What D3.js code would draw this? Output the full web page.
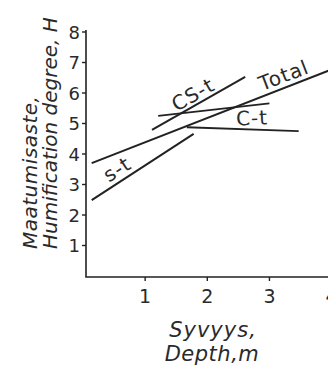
<!DOCTYPE html>
<html>
<head>
<meta charset="utf-8">
<script src="https://cdn.jsdelivr.net/npm/d3@7"></script>
<style>
  html, body { margin: 0; padding: 0; background: #fff; }
  svg { display: block; }
  text { font-family: "DejaVu Sans", "Open Sans", sans-serif; fill: #2a2a2a; }
</style>
</head>
<body>
<svg id="chart" width="328" height="375"></svg>
<script>
// Tick values on each axis
const xTicks = [1, 2, 3, 4];
const yTicks = [1, 2, 3, 4, 5, 6, 7, 8];

// Regression lines: humification degree against depth, [depth, H] end points
const seriesNames = ["Total", "s-t", "CS-t", "CS-t flat", "C-t"];
const totalLine = [[0.14, 3.70], [4.0, 6.77]];
const stLine = [[0.14, 2.49], [1.78, 4.66]];
const cstLine = [[1.11, 4.79], [2.61, 6.53]];
const cstFlatLine = [[1.21, 5.25], [3.0, 5.66]];
const ctLine = [[1.67, 4.88], [3.47, 4.75]];

// Line labels: text, centre point [depth, H], rotation in degrees
const labelText = ["Total", "CS-t", "C-t", "s-t"];
const labelPos = [[3.23, 6.58], [1.77, 5.95], [2.72, 5.18], [0.55, 3.50]];
const labelAngle = [-21, -30, -3, -33];

const svg = d3.select("#chart");
const x = d3.scaleLinear().domain([0, 4]).range([83, 331.6]);
const y = d3.scaleLinear().domain([0, 8]).range([276, 32]);

const axisX0 = 86, axisY0 = 277, axisTop = 30;
const ink = "#222";

// Axis frame
svg.append("path")
  .attr("d", `M${axisX0},${axisTop}V${axisY0}H328`)
  .attr("fill", "none").attr("stroke", ink).attr("stroke-width", 1.6);

// X axis ticks and labels
const xg = svg.append("g");
xg.selectAll("line").data(xTicks).join("line")
  .attr("x1", d => x(d)).attr("x2", d => x(d))
  .attr("y1", axisY0).attr("y2", axisY0 + 4)
  .attr("stroke", ink).attr("stroke-width", 1.4);
xg.selectAll("text").data(xTicks).join("text")
  .attr("x", d => x(d)).attr("y", 303)
  .attr("text-anchor", "middle")
  .style("font-size", "19px")
  .text(d => d);

// Y axis ticks and labels
const yg = svg.append("g");
yg.selectAll("line").data(yTicks).join("line")
  .attr("x1", axisX0 - 4).attr("x2", axisX0)
  .attr("y1", d => y(d)).attr("y2", d => y(d))
  .attr("stroke", ink).attr("stroke-width", 1.4);
yg.selectAll("text").data(yTicks).join("text")
  .attr("x", 80).attr("y", d => y(d) + 6.5)
  .attr("text-anchor", "end")
  .style("font-size", "18px")
  .text(d => d);

// Series lines
const line = d3.line().x(d => x(d[0])).y(d => y(d[1]));
svg.append("g").selectAll("path")
  .data([totalLine, stLine, cstLine, cstFlatLine, ctLine])
  .join("path")
  .attr("d", line)
  .attr("fill", "none")
  .attr("stroke", ink)
  .attr("stroke-width", 2);

// Line labels
svg.append("g").selectAll("text").data(labelText).join("text")
  .attr("transform", (d, i) => `translate(${x(labelPos[i][0])},${y(labelPos[i][1])}) rotate(${labelAngle[i]})`)
  .attr("text-anchor", "middle")
  .attr("dy", "0.35em")
  .style("font-size", "20px")
  .style("letter-spacing", "1px")
  .text(d => d);

// Axis titles
svg.append("text")
  .attr("x", 213).attr("y", 337)
  .attr("text-anchor", "middle")
  .style("font-size", "21px").style("font-style", "italic")
  .style("letter-spacing", "1px")
  .text("Syvyys,");
svg.append("text")
  .attr("x", 212).attr("y", 361)
  .attr("text-anchor", "middle")
  .style("font-size", "21px").style("font-style", "italic")
  .style("letter-spacing", "0.5px")
  .text("Depth,m");

svg.append("text")
  .attr("transform", "translate(37,249) rotate(-90)")
  .style("font-size", "20px").style("font-style", "italic")
  .style("letter-spacing", "0.5px")
  .text("Maatumisaste,");
svg.append("text")
  .attr("transform", "translate(57,249) rotate(-90)")
  .style("font-size", "20px").style("font-style", "italic")
  .text("Humification degree, H");
</script>
</body>
</html>
